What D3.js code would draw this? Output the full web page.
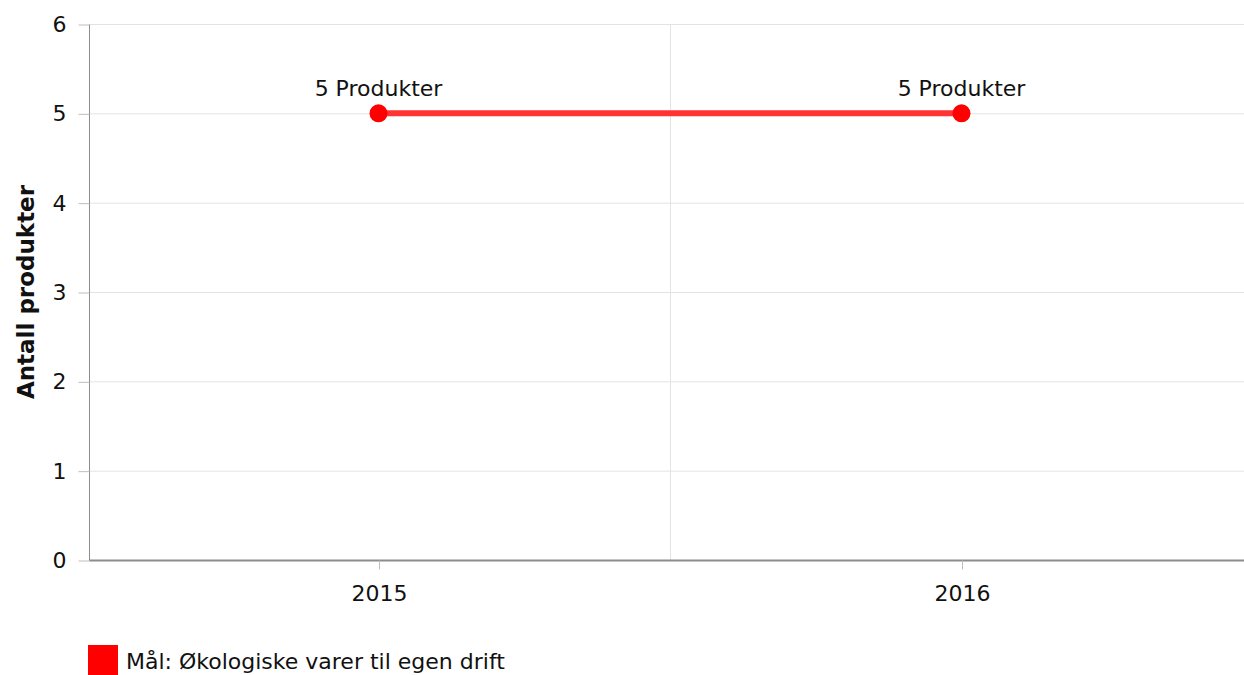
<!DOCTYPE html>
<html>
<head>
<meta charset="utf-8">
<script src="https://cdn.jsdelivr.net/npm/d3@7"></script>
<style>
  body { margin: 0; background: #fff; }
  text { font-family: "DejaVu Sans", Verdana, sans-serif; }
</style>
</head>
<body>
<div id="chart"></div>
<script>
  var years = ["2015", "2016"];
  var values = [5, 5];
  var pointLabels = ["5 Produkter", "5 Produkter"];
  var yTicks = [0, 1, 2, 3, 4, 5, 6];
  var seriesName = "Mål: Økologiske varer til egen drift";

  var svgWidth = 1244;
  var svgHeight = 675;
  var fontSize = 22;

  var svg = d3.select("#chart")
    .append("svg")
    .attr("width", svgWidth)
    .attr("height", svgHeight);

  var plotLeft = 89, plotTop = 24, plotBottom = 560;

  // categories sit half a step in from each edge
  var x = d3.scalePoint()
    .domain(years)
    .range([87, 1253])
    .padding(0.5);

  var y = d3.scaleLinear()
    .domain([0, 6])
    .range([plotBottom, plotTop]);

  // gridlines
  svg.append("g").selectAll("line")
    .data(yTicks)
    .enter()
    .append("line")
    .attr("x1", plotLeft)
    .attr("x2", svgWidth)
    .attr("y1", d => y(d) + 0.5)
    .attr("y2", d => y(d) + 0.5)
    .attr("stroke", "#e3e3e3");

  // vertical divider between categories
  var mid = (x(years[0]) + x(years[1])) / 2;
  svg.append("line")
    .attr("x1", Math.round(mid) + 0.5)
    .attr("x2", Math.round(mid) + 0.5)
    .attr("y1", plotTop)
    .attr("y2", plotBottom)
    .attr("stroke", "#e3e3e3");

  // y axis
  var leftAxis = d3.axisLeft(y).tickValues(yTicks).tickFormat(d3.format("d")).tickSize(11).tickPadding(12);
  var gy = svg.append("g")
    .attr("transform", `translate(${plotLeft + 0.5}, 0.5)`)
    .call(leftAxis);
  gy.select(".domain").attr("stroke", "#8c8c8c").attr("d", `M0,${plotTop}V${plotBottom}`);
  gy.selectAll(".tick line").attr("stroke", "#bdbdbd");
  gy.selectAll("text").attr("font-size", fontSize).attr("fill", "#111");

  // x axis
  var bottomAxis = d3.axisBottom(x).tickSize(9).tickPadding(16);
  var gx = svg.append("g")
    .attr("transform", `translate(0.5, ${plotBottom + 0.5})`)
    .call(bottomAxis);
  gx.select(".domain").attr("stroke", "#8c8c8c").attr("stroke-width", 2).attr("d", `M${plotLeft},0H${svgWidth}`);
  gx.selectAll(".tick line").attr("stroke", "#bdbdbd");
  gx.selectAll("text").attr("font-size", fontSize).attr("fill", "#111");

  // y axis title
  svg.append("text")
    .attr("transform", `translate(34, ${(plotTop + plotBottom) / 2}) rotate(-90)`)
    .attr("text-anchor", "middle")
    .attr("font-size", 23)
    .attr("font-weight", "bold")
    .attr("fill", "#111")
    .text("Antall produkter");

  var data = years.map((d, i) => ({ year: d, value: values[i], label: pointLabels[i] }));

  // line
  var line = d3.line()
    .x(d => x(d.year))
    .y(d => y(d.value));

  svg.append("path")
    .datum(data)
    .attr("d", line)
    .attr("fill", "none")
    .attr("stroke", "#ff3333")
    .attr("stroke-width", 6);

  svg.selectAll("circle.pt")
    .data(data)
    .enter()
    .append("circle")
    .attr("class", "pt")
    .attr("cx", d => x(d.year))
    .attr("cy", d => y(d.value))
    .attr("r", 9)
    .attr("fill", "#ff0000");

  svg.selectAll("text.lbl")
    .data(data)
    .enter()
    .append("text")
    .attr("class", "lbl")
    .attr("x", d => x(d.year))
    .attr("y", d => y(d.value) - 17)
    .attr("text-anchor", "middle")
    .attr("font-size", fontSize)
    .attr("fill", "#111")
    .text(d => d.label);

  // legend
  svg.append("rect")
    .attr("x", 88)
    .attr("y", 645)
    .attr("width", 30)
    .attr("height", 30)
    .attr("fill", "#ff0000");

  svg.append("text")
    .attr("x", 126)
    .attr("y", 669)
    .attr("font-size", fontSize)
    .attr("fill", "#111")
    .text(seriesName);
</script>
</body>
</html>
